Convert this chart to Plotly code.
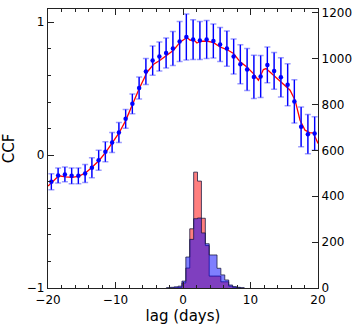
import plotly.graph_objects as go

# CCF points (lag in days) with errors
lags = [-19.5, -18.5, -17.5, -16.5, -15.5, -14.5, -13.5, -12.5, -11.5, -10.5,
        -9.5, -8.5, -7.5, -6.5, -5.5, -4.5, -3.5, -2.5, -1.5, -0.5,
        0.5, 1.5, 2.5, 3.5, 4.5, 5.5, 6.5, 7.5, 8.5, 9.5,
        10.5, 11.5, 12.5, 13.5, 14.5, 15.5, 16.5, 17.5, 18.5, 19.5]
ccf = [-0.200, -0.153, -0.145, -0.156, -0.156, -0.138, -0.095, -0.038, 0.025, 0.095,
       0.171, 0.273, 0.386, 0.506, 0.629, 0.712, 0.742, 0.769, 0.802, 0.855,
       0.889, 0.870, 0.862, 0.870, 0.859, 0.832, 0.802, 0.742, 0.684, 0.644,
       0.589, 0.592, 0.679, 0.634, 0.586, 0.529, 0.404, 0.213, 0.158, 0.163]
ccf_err = [0.060, 0.056, 0.056, 0.060, 0.060, 0.068, 0.075, 0.075, 0.075, 0.075,
           0.075, 0.071, 0.075, 0.083, 0.098, 0.110, 0.109, 0.113, 0.128, 0.150,
           0.173, 0.150, 0.143, 0.143, 0.128, 0.128, 0.132, 0.132, 0.147, 0.158,
           0.163, 0.158, 0.135, 0.138, 0.148, 0.158, 0.163, 0.150, 0.147, 0.126]

# interpolated CCF (red curve)
line_lags = [-20.0, -19.1, -18.4, -17.4, -16.4, -15.4, -14.4, -13.4, -12.4, -11.4,
             -10.4, -9.5, -8.5, -7.5, -6.5, -5.3, -4.35, -3.4, -2.4, -1.4,
             -0.4, 0.58, 1.07, 1.56, 2.06, 2.55, 3.54, 4.52, 5.5, 6.5,
             7.48, 8.47, 9.46, 10.43, 11.17, 11.91, 12.31, 12.9, 13.89, 14.87,
             15.86, 16.6, 17.34, 18.08, 18.82, 19.3, 20.0]
line_ccf = [-0.233, -0.190, -0.155, -0.163, -0.168, -0.158, -0.133, -0.088, -0.038, 0.025,
            0.095, 0.165, 0.260, 0.380, 0.500, 0.626, 0.684, 0.714, 0.750, 0.790,
            0.852, 0.885, 0.865, 0.870, 0.844, 0.857, 0.859, 0.847, 0.814, 0.795,
            0.765, 0.702, 0.664, 0.614, 0.564, 0.644, 0.652, 0.626, 0.577, 0.539,
            0.489, 0.414, 0.263, 0.188, 0.168, 0.168, 0.088]

# lag distributions (histogram bin edges and counts)
bin_edges = [-2.46, -1.88, -1.31, -0.73, -0.155, 0.42, 1.0, 1.58, 2.15, 2.73, 3.31,
             3.88, 4.46, 5.04, 5.61, 6.19, 6.77, 7.35, 7.92, 8.50, 9.08]
red_counts = [0, 0, 1, 3, 22, 87, 258, 505, 466, 304, 185, 52, 52, 52, 27, 27, 8, 3, 1, 0]
blue_counts = [1, 3, 5, 8, 30, 135, 212, 302, 305, 240, 193, 144, 144, 86, 57, 35, 13, 6, 3, 1]

x_ticks = [-20, -10, 0, 10, 20]
ccf_ticks = [-1, 0, 1]
count_ticks = [0, 200, 400, 600, 800, 1000, 1200]


def step_trace(counts, fill, name):
    return go.Scatter(
        x=[bin_edges[0]] + bin_edges,
        y=[0] + counts + [0],
        yaxis="y2",
        mode="lines",
        line=dict(shape="hv", color="rgba(20,20,60,0.75)", width=1),
        fill="tozeroy",
        fillcolor=fill,
        name=name,
        showlegend=False,
    )


fig = go.Figure()
fig.add_trace(go.Scatter(x=line_lags, y=line_ccf, mode="lines",
                         line=dict(color="red", width=1.3), showlegend=False))
# light caps first, then the dark bars without caps on top
fig.add_trace(go.Scatter(x=lags, y=ccf, mode="markers", marker=dict(size=1, color="rgba(0,0,0,0)"),
                         error_y=dict(type="data", array=ccf_err, color="rgba(90,90,255,0.6)",
                                      thickness=1.5, width=3),
                         showlegend=False))
fig.add_trace(go.Scatter(x=lags, y=ccf, mode="markers", marker=dict(size=4.5, color="blue"),
                         error_y=dict(type="data", array=ccf_err, color="blue",
                                      thickness=1.3, width=0),
                         showlegend=False))
fig.add_trace(step_trace(red_counts, "rgba(255,0,0,0.5)", "red"))
fig.add_trace(step_trace(blue_counts, "rgba(0,0,255,0.5)", "blue"))

axis_font = dict(family="DejaVu Sans", size=12, color="black")
fig.update_layout(
    width=360, height=331,
    margin=dict(l=48, r=42, t=9, b=43),
    plot_bgcolor="white", paper_bgcolor="white",
    font=axis_font,
    xaxis=dict(range=[-20, 20], tickvals=x_ticks, ticks="inside", ticklen=6,
               showline=True, linecolor="#222", linewidth=1.2, mirror="ticks",
               showgrid=False, zeroline=False, tickcolor="#222", automargin=False,
               minor=dict(dtick=2, ticks="inside", ticklen=3, tickcolor="#222"),
               title=dict(text="lag (days)", font=dict(size=15), standoff=3)),
    yaxis=dict(range=[-1, 1.1], tickvals=ccf_ticks, ticks="inside", ticklen=6,
               showline=True, linecolor="#222", linewidth=1.2, automargin=False,
               showgrid=False, zeroline=False, tickcolor="#222",
               minor=dict(dtick=0.2, ticks="inside", ticklen=3, tickcolor="#222"),
               title=dict(text="CCF", font=dict(size=15), standoff=14)),
    yaxis2=dict(range=[0, 1216], tickvals=count_ticks, ticks="inside", ticklen=6,
                overlaying="y", side="right", showline=True, linecolor="#222",
                linewidth=1.2, showgrid=False, zeroline=False, tickcolor="#222",
                automargin=False),
)

# drop the default page margin so the figure sits at the window's corner
fig.write_html("out.html", config={"displayModeBar": False},
               post_script="document.body.style.margin='0';")
